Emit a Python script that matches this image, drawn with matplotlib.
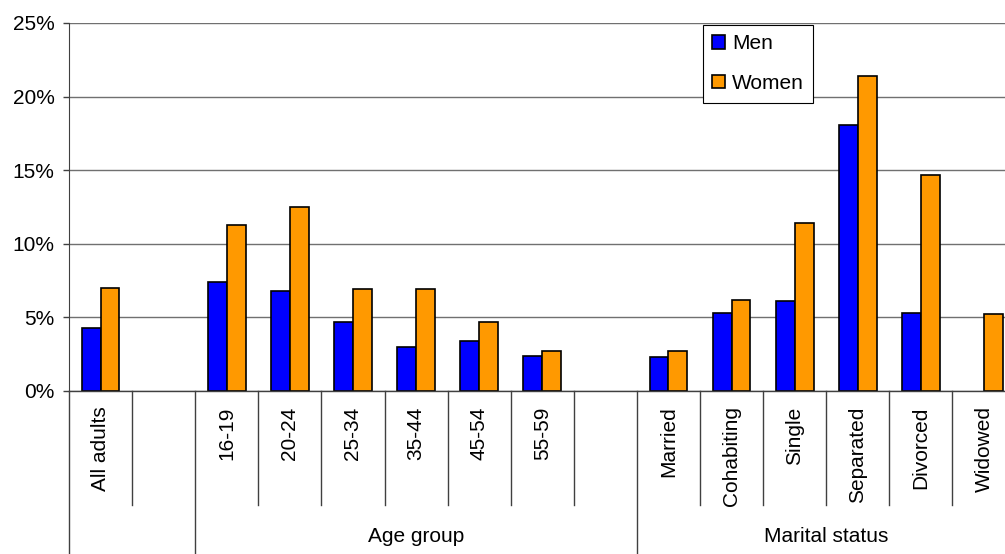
import numpy as np
import matplotlib

matplotlib.use("Agg")
import matplotlib.pyplot as plt
import matplotlib.transforms as mtransforms
from matplotlib.ticker import FuncFormatter

plt.rcParams["font.family"] = ["Liberation Sans", "DejaVu Sans"]

# 15 category slots; empty strings are spacer slots
categories = ["All adults", "", "16-19", "20-24", "25-34", "35-44", "45-54", "55-59", "",
              "Married", "Cohabiting", "Single", "Separated", "Divorced", "Widowed"]
men = [4.3, np.nan, 7.4, 6.8, 4.7, 3.0, 3.4, 2.4, np.nan,
       2.3, 5.3, 6.1, 18.1, 5.3, np.nan]
women = [7.0, np.nan, 11.3, 12.5, 6.9, 6.9, 4.7, 2.7, np.nan,
         2.7, 6.2, 11.4, 21.4, 14.7, 5.2]
groups = ["", "Age group", "Marital status"]
group_bounds = [(0, 2), (2, 9), (9, 15)]

FS = 15
W, H = 1005, 554
fig = plt.figure(figsize=(W / 100, H / 100), dpi=100)
# plot area runs past the right edge of the picture, as in the original
ax = fig.add_axes([69 / W, 1 - 391 / H, 946.5 / W, 368 / H])

x = np.arange(len(categories)) + 0.5
bw = 0.3
ax.bar(x - bw / 2, men, bw, color="#0000FF", edgecolor="black", linewidth=1.2,
       label="Men", zorder=3)
ax.bar(x + bw / 2, women, bw, color="#FF9900", edgecolor="black", linewidth=1.2,
       label="Women", zorder=3)

ax.set_xlim(0, len(categories))
ax.set_ylim(0, 25)
ax.set_yticks(range(0, 26, 5))
ax.yaxis.set_major_formatter(FuncFormatter(lambda v, p: f"{v:.0f}%"))
ax.grid(axis="y", color="#707070", linewidth=1.0, zorder=0)
ax.tick_params(axis="y", length=4, width=1, color="#404040", labelsize=FS, pad=6.5)

ax.set_xticks(x)
ax.set_xticklabels(categories, rotation=90, fontsize=FS)
ax.tick_params(axis="x", length=0, pad=11)

for s in ["top", "right", "bottom"]:
    ax.spines[s].set_visible(False)
ax.spines["left"].set_color("#404040")
ax.axhline(0, color="#404040", linewidth=1.0, zorder=4, clip_on=False)

# category separators below the axis
trans = mtransforms.blended_transform_factory(ax.transData, ax.transAxes)
long_y = -(554 - 391) / 368 - 0.01
short_y = -(505 - 391) / 368
starts = [g[0] for g in group_bounds]
for b in range(len(categories) + 1):
    y_end = long_y if b in starts or b == len(categories) else short_y
    ax.plot([b, b], [0, y_end], color="#404040", linewidth=1.0, transform=trans,
            clip_on=False)

for name, (a, b) in zip(groups, group_bounds):
    if name:
        ax.text((a + b) / 2, -(537 - 391) / 368, name, transform=trans,
                ha="center", va="center", fontsize=FS)

leg = ax.legend(loc="upper left", bbox_to_anchor=(703 / W, 1 - 25 / H),
                bbox_transform=fig.transFigure, fontsize=FS, frameon=True,
                fancybox=False, edgecolor="black", framealpha=1,
                handlelength=0.6, handleheight=0.6, handletextpad=0.35,
                labelspacing=1.0, borderpad=0.45, borderaxespad=0)
leg.get_frame().set_linewidth(0.8)
for h in leg.legend_handles:
    h.set_linewidth(1.2)

fig.savefig("out.png", dpi=100)
